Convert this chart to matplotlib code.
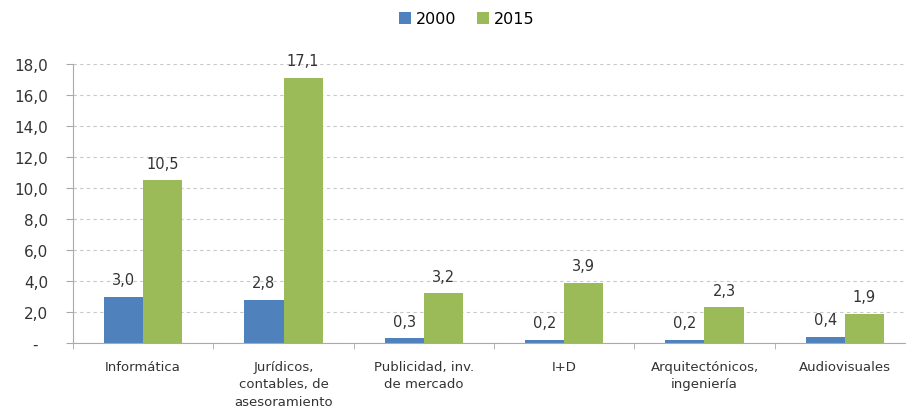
import numpy as np
import matplotlib
matplotlib.use("Agg")
import matplotlib.pyplot as plt
from matplotlib.ticker import FixedLocator

categories = ["Informática", "Jurídicos,\ncontables, de\nasesoramiento",
              "Publicidad, inv.\nde mercado", "I+D",
              "Arquitectónicos,\ningeniería", "Audiovisuales"]
v2000 = [3.0, 2.8, 0.3, 0.2, 0.2, 0.4]
v2015 = [10.5, 17.1, 3.2, 3.9, 2.3, 1.9]
yticks = [0, 2, 4, 6, 8, 10, 12, 14, 16, 18]

def fmt(v):
    return ("%.1f" % v).replace(".", ",")

plt.rcParams['font.family'] = ['DejaVu Sans']
fig = plt.figure(figsize=(9.06, 4.14), dpi=100)
# the plot area runs a bit past the right edge, as in the original crop
ax = fig.add_axes([73/906, 70/414, 842/906, 279/414])

x = np.arange(len(categories))
w = 0.28
b1 = ax.bar(x - w/2, v2000, w, color="#4F81BD", label="2000")
b2 = ax.bar(x + w/2, v2015, w, color="#9BBB59", label="2015")

for bars, vals in ((b1, v2000), (b2, v2015)):
    for r, v in zip(bars, vals):
        ax.annotate(fmt(v), (r.get_x() + r.get_width()/2, v), xytext=(0, 7),
                    textcoords="offset points", ha="center", va="bottom",
                    fontsize=10.5, color="#333333")

ax.set_xlim(-0.5, len(categories) - 0.5)
ax.set_ylim(0, 18)
ax.set_yticks(yticks)
ax.set_yticklabels(["-  "] + [fmt(t) for t in yticks[1:]], fontsize=11, color="#333333")
ax.set_xticks(x)
ax.set_xticklabels(categories, fontsize=9.5, color="#333333", linespacing=1.45)
ax.tick_params(axis="x", length=0, pad=12)
ax.tick_params(axis="y", length=5, color="#aaaaaa", direction="out", pad=13)
ax.xaxis.set_minor_locator(FixedLocator(np.arange(-0.5, len(categories), 1.0)))
ax.tick_params(axis="x", which="minor", length=4, color="#aaaaaa")

ax.yaxis.grid(True, linestyle=(0, (3, 3)), color="#c8c8c8", linewidth=0.8)
ax.set_axisbelow(True)
for s in ("top", "right"):
    ax.spines[s].set_visible(False)
for s in ("left", "bottom"):
    ax.spines[s].set_color("#aaaaaa")

fig.legend(loc="upper center", bbox_to_anchor=(0.515, 1.005), ncol=2, frameon=False,
           fontsize=11.5, handlelength=0.75, handleheight=0.75, columnspacing=1.3,
           handletextpad=0.3)

fig.savefig("out.png", dpi=100)
